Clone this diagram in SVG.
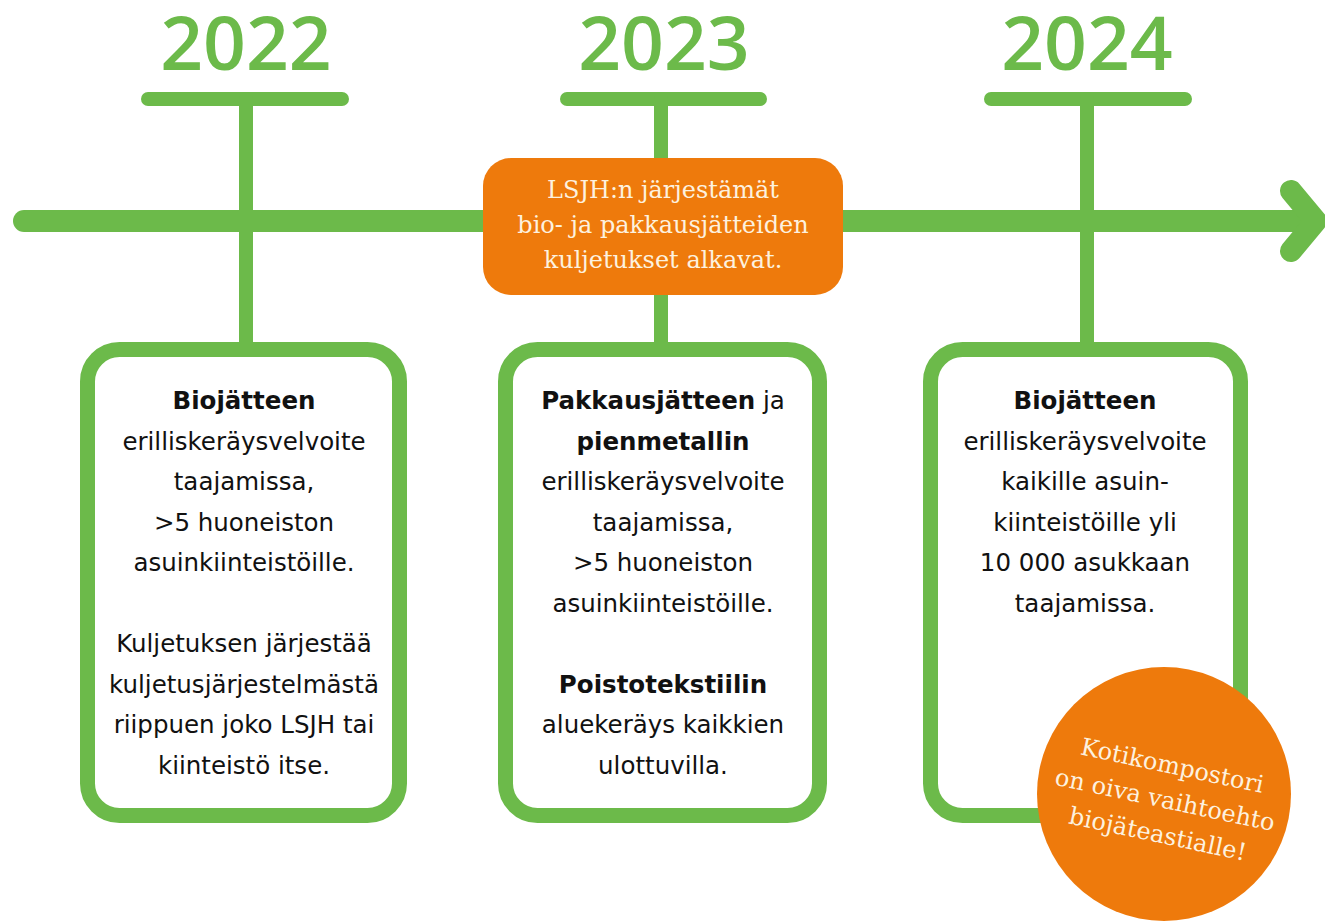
<svg xmlns="http://www.w3.org/2000/svg" width="1325" height="923" viewBox="0 0 1325 923">
<style>
.g{stroke:#6cba4a;stroke-linecap:round;fill:none}
.yr{font-family:"Open Sans",sans-serif;font-size:75px;font-weight:600;fill:#6cba4a;text-anchor:middle}
.box{fill:#fff;stroke:#6cba4a;stroke-width:15}
.t{font-family:"DejaVu Sans","Noto Sans",sans-serif;font-size:24.5px;fill:#111;text-anchor:middle}
.b{font-weight:bold}
.o{font-family:"DejaVu Serif",serif;font-size:24px;fill:#fdf1df;text-anchor:middle}
</style>
<g id="connectors">
<line class="g" x1="24" y1="221" x2="1310" y2="221" stroke-width="22"/>
<polyline class="g" points="1291,191 1316,221 1291,251" stroke-width="22" stroke-linejoin="round"/>
<line class="g" x1="148" y1="99" x2="342" y2="99" stroke-width="14"/>
<line class="g" x1="567" y1="99" x2="760" y2="99" stroke-width="14"/>
<line class="g" x1="991" y1="99" x2="1185" y2="99" stroke-width="14"/>
<line class="g" x1="246" y1="99" x2="246" y2="345" stroke-width="14" stroke-linecap="butt"/>
<line class="g" x1="661" y1="99" x2="661" y2="345" stroke-width="14" stroke-linecap="butt"/>
<line class="g" x1="1087" y1="99" x2="1087" y2="345" stroke-width="14" stroke-linecap="butt"/>
</g>
<g id="year-2022"><text class="yr" x="246" y="70">2022</text></g>
<g id="year-2023"><text class="yr" x="664" y="70">2023</text></g>
<g id="year-2024"><text class="yr" x="1087" y="70">2024</text></g>
<g id="event-2023">
<rect x="483" y="158" width="360" height="137" rx="28" fill="#ee7a0c"/>
<text class="o" x="663" y="198">LSJH:n järjestämät</text>
<text class="o" x="663" y="233">bio- ja pakkausjätteiden</text>
<text class="o" x="663" y="268">kuljetukset alkavat.</text>
</g>
<g id="box-2022">
<rect class="box" x="87.5" y="349.5" width="312" height="466" rx="32"/>
<text class="t b" x="244" y="409">Biojätteen</text>
<text class="t" x="244" y="450">erilliskeräysvelvoite</text>
<text class="t" x="244" y="490">taajamissa,</text>
<text class="t" x="244" y="531">&gt;5 huoneiston</text>
<text class="t" x="244" y="571">asuinkiinteistöille.</text>
<text class="t" x="244" y="652">Kuljetuksen järjestää</text>
<text class="t" x="244" y="693">kuljetusjärjestelmästä</text>
<text class="t" x="244" y="733">riippuen joko LSJH tai</text>
<text class="t" x="244" y="774">kiinteistö itse.</text>
</g>
<g id="box-2023">
<rect class="box" x="505.5" y="349.5" width="314" height="466" rx="32"/>
<text class="t" x="663" y="409"><tspan class="b">Pakkausjätteen</tspan> ja</text>
<text class="t b" x="663" y="450">pienmetallin</text>
<text class="t" x="663" y="490">erilliskeräysvelvoite</text>
<text class="t" x="663" y="531">taajamissa,</text>
<text class="t" x="663" y="571">&gt;5 huoneiston</text>
<text class="t" x="663" y="612">asuinkiinteistöille.</text>
<text class="t b" x="663" y="693">Poistotekstiilin</text>
<text class="t" x="663" y="733">aluekeräys kaikkien</text>
<text class="t" x="663" y="774">ulottuvilla.</text>
</g>
<g id="box-2024">
<rect class="box" x="930.5" y="349.5" width="310" height="466" rx="32"/>
<text class="t b" x="1085" y="409">Biojätteen</text>
<text class="t" x="1085" y="450">erilliskeräysvelvoite</text>
<text class="t" x="1085" y="490">kaikille asuin-</text>
<text class="t" x="1085" y="531">kiinteistöille yli</text>
<text class="t" x="1085" y="571">10 000 asukkaan</text>
<text class="t" x="1085" y="612">taajamissa.</text>
</g>
<g id="note-circle">
<circle cx="1164" cy="794" r="127" fill="#ee7a0c"/>
<g transform="rotate(12 1165 800)">
<text class="o" x="1165" y="773">Kotikompostori</text>
<text class="o" x="1165" y="808">on oiva vaihtoehto</text>
<text class="o" x="1165" y="843">biojäteastialle!</text>
</g>
</g>
</svg>
